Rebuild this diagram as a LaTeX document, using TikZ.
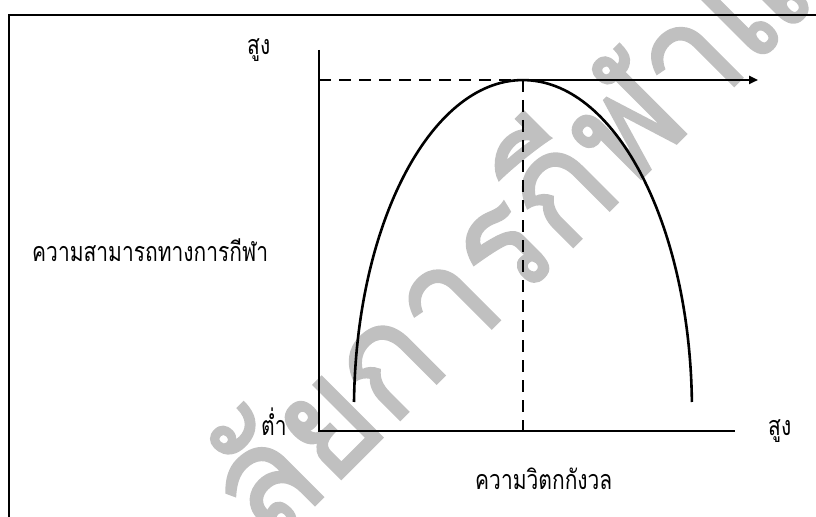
\documentclass[tikz,border=0pt]{standalone}
\usepackage{fontspec}
\usetikzlibrary{arrows.meta}
\newfontfamily\thai[Script=Thai,FakeBold=1.5,FakeStretch=0.93]{Loma}
\newfontfamily\thaic[Script=Thai,FakeStretch=0.78]{Loma}
\definecolor{wm}{RGB}{192,192,192}
\tikzset{
  axisline/.style={line width=2.6bp, black},
  guide/.style={line width=2.6bp, black, dash pattern=on 12bp off 8bp},
  lbl/.style={inner sep=0pt, font=\thaic\fontsize{27}{27}\selectfont, anchor=base west},
  wmark/.style={inner sep=0pt, text=wm, rotate=45, anchor=base west, font=\thai\fontsize{155}{155}\selectfont}
}
\begin{document}
\begin{tikzpicture}[x=1bp,y=-1bp]
\useasboundingbox (0,0) rectangle (816,517);
\begin{scope}
\clip (0,0) rectangle (816,517);
\node[wmark] (wm) at (269,551) {ลัยการกีฬาแห่งชาติ};
\end{scope}
% frame
\draw[line width=2bp] (8.5,517) -- (8.5,15) -- (816,15);
% axes
\coordinate (O) at (319,431);
\coordinate (ytop) at (319,50);
\coordinate (xend) at (735,431);
\coordinate (peak) at (523,80);
\coordinate (ylev) at (319,80);
\coordinate (foot) at (523,431);
\coordinate (arrowend) at (758,80);
\coordinate (cleft) at (354,402);
\draw[axisline] (ytop) -- (O) -- (xend);
\draw[guide] (ylev) -- (peak);
\draw[guide] (peak) -- (foot);
\draw[line width=2.4bp, -{Triangle[length=9bp,width=8bp]}] (peak) -- (arrowend);
\draw[line width=2.6bp] (cleft) arc[start angle=181.4, end angle=358.6, x radius=169, y radius=330];
% labels
\node[lbl] (yhigh) at (247,55) {สูง};
\node[lbl] (ylabel) at (32,262) {ความสามารถทางการกีฬา};
\node[lbl] (low) at (261,435) {ต่ำ};
\node[lbl] (xhigh) at (768,435) {สูง};
\node[lbl] (xlabel) at (475,489) {ความวิตกกังวล};
\end{tikzpicture}
\end{document}
